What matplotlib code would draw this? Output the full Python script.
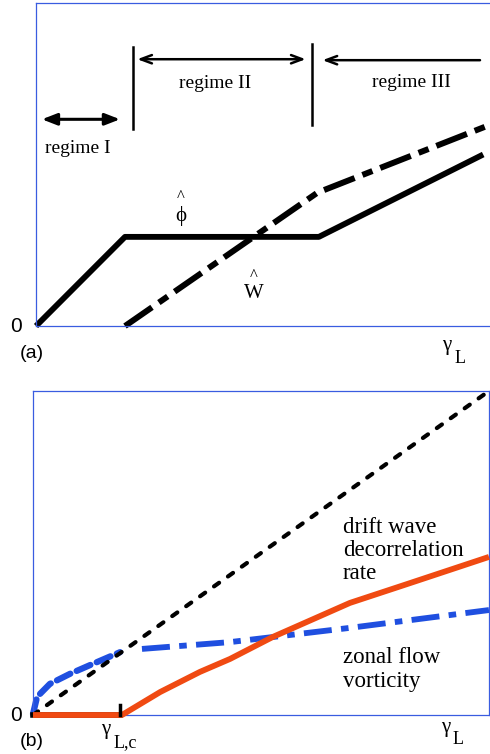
"""Two-panel schematic: (a) phi-hat and W-hat vs gamma_L with regimes,
(b) decorrelation rate and zonal flow vorticity vs gamma_L."""

import matplotlib
matplotlib.use("Agg")
import matplotlib.pyplot as plt

# ---- panel (a) data (arbitrary units, gamma_L on 0..10) ----
phi_x = [0.0, 1.96, 6.23, 9.85]
phi_y = [0.0, 2.76, 2.76, 5.31]
w_x = [1.96, 6.20, 9.91]
w_y = [0.0, 4.13, 6.18]

# ---- panel (b) data ----
decor_x = [0.0, 10.0]
decor_y = [0.0, 10.0]
zf_low_x = [0.0, 0.09, 0.37, 0.81, 1.25, 1.91]
zf_low_y = [0.03, 0.56, 0.96, 1.27, 1.54, 1.94]
zf_high_x = [2.39, 4.32, 6.95, 10.0]
zf_high_y = [2.04, 2.25, 2.69, 3.24]
dw_x = [0.0, 1.91, 1.95, 2.79, 3.66, 4.32, 5.26, 6.95, 8.20, 10.0]
dw_y = [0.0, 0.0, 0.0, 0.71, 1.33, 1.73, 2.41, 3.46, 4.04, 4.88]
gamma_lc = 1.91

SPINE = "#3a5ce0"
ORANGE = "#f04a12"
BLUE = "#1f4fe0"
SERIF = "Liberation Serif"
SANS = "Liberation Sans"

fig = plt.figure(figsize=(4.9, 7.54), dpi=100)
ax1 = fig.add_axes([0.0735, 0.5676, 0.9265, 0.4284])
ax2 = fig.add_axes([0.0673, 0.0517, 0.9306, 0.4297])

for ax in (ax1, ax2):
    ax.set_xlim(0, 10)
    ax.set_ylim(0, 10)
    ax.set_xticks([]); ax.set_yticks([])
    for s in ax.spines.values():
        s.set_color(SPINE); s.set_linewidth(0.9)
ax1.spines["right"].set_visible(False)


def gamma_label(ax, x, y, sub, size=15):
    ax.text(x, y, "\u03b3", fontsize=size, family=SERIF, ha="left", va="center",
            transform=ax.transAxes, clip_on=False)
    ax.text(x + 0.026, y - 0.04, sub, fontsize=size - 2, family=SERIF, ha="left",
            va="center", transform=ax.transAxes, clip_on=False)


# ---- (a) ----
ax1.plot(phi_x, phi_y, color="black", lw=4.2, solid_capstyle="butt", clip_on=False)
ax1.plot(w_x, w_y, color="black", lw=4.3, dashes=(5.5, 1.4, 1.8, 1.4),
         dash_capstyle="butt", clip_on=False)

ax1.text(3.18, 3.40, "\u03d5", fontsize=15, family=[SERIF, "DejaVu Serif"],
         ha="center", va="center")
ax1.text(3.18, 3.98, "^", fontsize=12, family=SERIF, ha="center", va="center")
ax1.text(4.79, 1.0, "W", fontsize=15, family=SERIF, ha="center", va="center")
ax1.text(4.79, 1.55, "^", fontsize=12, family=SERIF, ha="center", va="center")

ax1.plot([2.14, 2.14], [6.09, 8.63], color="black", lw=1.8)
ax1.plot([6.07, 6.07], [6.21, 8.73], color="black", lw=1.8)
ax1.annotate("", xy=(0.13, 6.40), xytext=(1.85, 6.40),
             arrowprops=dict(arrowstyle="<|-|>,head_length=0.9,head_width=0.35",
                             color="black", lw=2.2, shrinkA=0, shrinkB=0))
ax1.annotate("", xy=(2.23, 8.26), xytext=(5.94, 8.26),
             arrowprops=dict(arrowstyle="<->,head_length=0.8,head_width=0.3",
                             color="black", lw=1.8, shrinkA=0, shrinkB=0))
ax1.annotate("", xy=(6.31, 8.23), xytext=(9.78, 8.23),
             arrowprops=dict(arrowstyle="->,head_length=0.8,head_width=0.3",
                             color="black", lw=1.8, shrinkA=0, shrinkB=0))
ax1.text(0.93, 5.50, "regime I", fontsize=14, family=SERIF, ha="center", va="center")
ax1.text(3.95, 7.50, "regime II", fontsize=14, family=SERIF, ha="center", va="center")
ax1.text(8.26, 7.53, "regime III", fontsize=14, family=SERIF, ha="center", va="center")

ax1.text(-0.045, 0.0, "0", fontsize=15, family=SANS, ha="center", va="center",
         transform=ax1.transAxes)
ax1.text(-0.01, -0.085, "(a)", fontsize=14, family=SANS, ha="center", va="center",
         transform=ax1.transAxes)
gamma_label(ax1, 0.895, -0.06, "L")

# ---- (b) ----
ax2.plot(decor_x, decor_y, color="black", lw=3, dashes=(1.5, 2.6),
         dash_capstyle="round", clip_on=False, zorder=3)
ax2.plot(zf_low_x, zf_low_y, color=BLUE, lw=4.5, dashes=(2.4, 1.1),
         dash_capstyle="round", clip_on=False, zorder=2)
ax2.plot(zf_high_x, zf_high_y, color=BLUE, lw=4.2, dashes=(4.8, 1.6, 1.3, 1.6),
         dash_capstyle="butt", clip_on=False, zorder=2)
ax2.plot([0, gamma_lc], [0, 0], color="black", lw=4, clip_on=False, zorder=3)
ax2.plot(dw_x, dw_y, color=ORANGE, lw=4.2, clip_on=False, zorder=4,
         solid_capstyle="butt")
ax2.plot([gamma_lc, gamma_lc], [0, 0.3], color="black", lw=2.5, zorder=5,
         clip_on=False)

for yy, line in zip([5.80, 5.09, 4.38], ["drift wave", "decorrelation", "rate"]):
    ax2.text(6.8, yy, line, fontsize=16.5, family=SERIF, ha="left", va="center")
for yy, line in zip([1.76, 1.02], ["zonal flow", "vorticity"]):
    ax2.text(6.8, yy, line, fontsize=16.5, family=SERIF, ha="left", va="center")

ax2.text(-0.038, 0.0, "0", fontsize=15, family=SANS, ha="center", va="center",
         transform=ax2.transAxes)
ax2.text(-0.003, -0.083, "(b)", fontsize=14, family=SANS, ha="center", va="center",
         transform=ax2.transAxes)
gamma_label(ax2, 0.150, -0.045, "L,c")
gamma_label(ax2, 0.895, -0.037, "L")

fig.savefig("out.png", dpi=100)
